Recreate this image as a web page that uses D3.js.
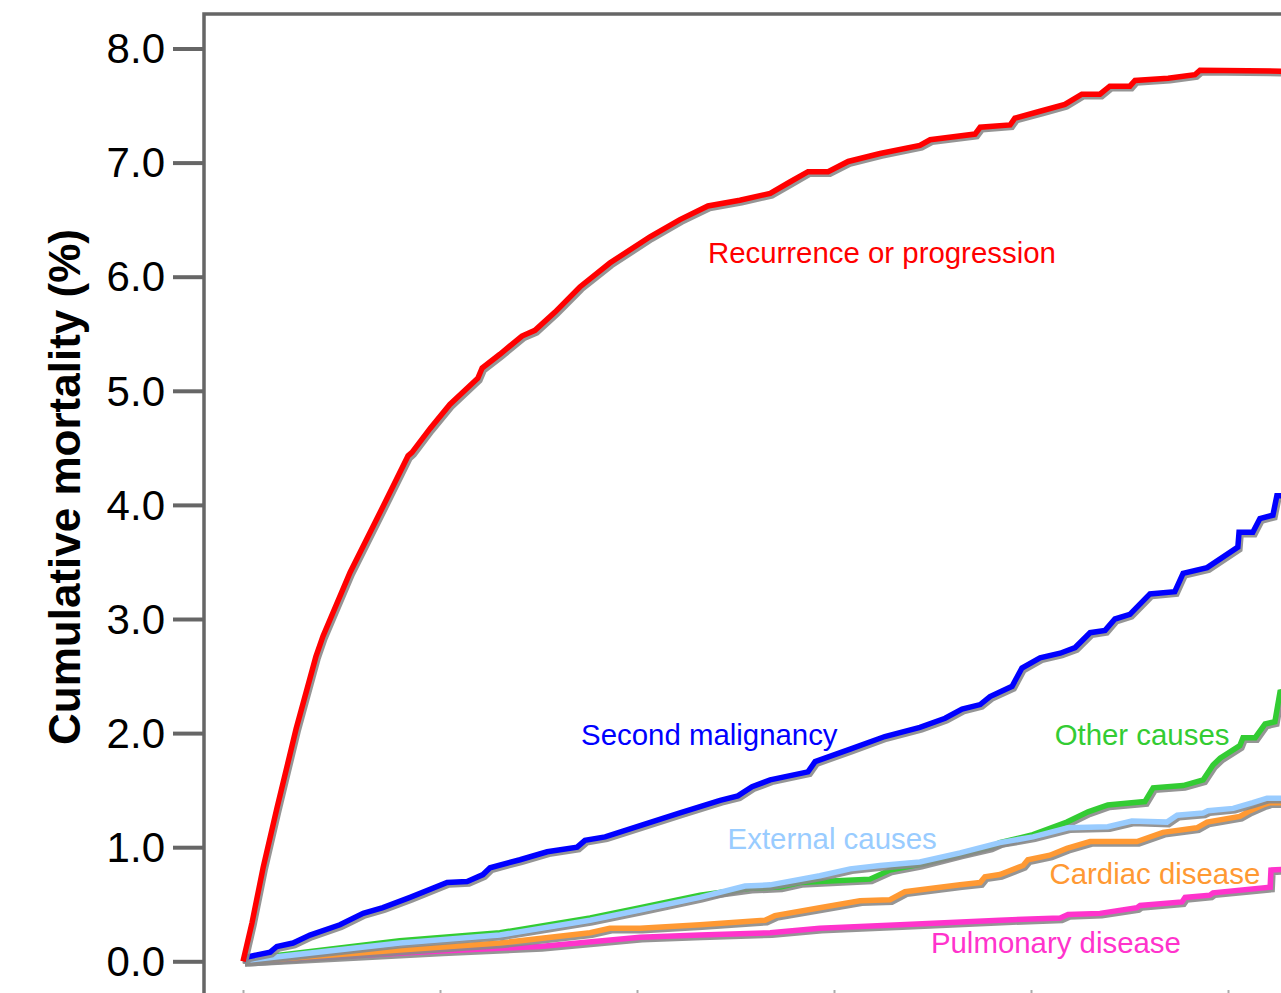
<!DOCTYPE html>
<html><head><meta charset="utf-8">
<script src="https://cdn.jsdelivr.net/npm/d3@7"></script>
<style>html,body{margin:0;padding:0;background:#fff;overflow:hidden}</style>
</head><body>
<svg id="chart" width="1281" height="993"></svg>
<script>
// ---- data: [years, cumulative mortality %] ----
const recurrence = [[0,0],[0.23,0.34],[0.51,0.82],[0.86,1.34],[1.35,2.04],[1.85,2.67],[2.03,2.85],[2.72,3.41],[3.43,3.90],[4.19,4.43],[4.29,4.46],[4.75,4.67],[5.25,4.88],[5.96,5.11],[6.07,5.20],[6.52,5.32],[7.08,5.48],[7.41,5.53],[7.92,5.69],[8.55,5.91],[9.31,6.12],[10.33,6.35],[11.09,6.50],[11.80,6.62],[12.61,6.67],[13.38,6.73],[13.88,6.83],[14.34,6.92],[14.85,6.92],[15.36,7.01],[16.17,7.08],[17.18,7.15],[17.44,7.20],[18.58,7.25],[18.71,7.31],[19.47,7.33],[19.59,7.39],[20.23,7.45],[20.86,7.51],[21.29,7.60],[21.75,7.60],[22.0,7.67],[22.51,7.67],[22.64,7.72],[23.48,7.74],[24.16,7.77],[24.29,7.81],[26.6,7.80]];
const secondMalignancy = [[0,0],[0.13,0.04],[0.69,0.08],[0.86,0.13],[1.27,0.16],[1.70,0.23],[2.46,0.32],[3.05,0.42],[3.55,0.47],[4.24,0.56],[5.18,0.69],[5.69,0.70],[6.09,0.76],[6.27,0.82],[7.03,0.89],[7.72,0.96],[8.48,1.00],[8.68,1.06],[9.19,1.09],[10.08,1.19],[11.09,1.30],[12.11,1.41],[12.56,1.45],[12.92,1.53],[13.38,1.59],[14.34,1.66],[14.52,1.75],[15.41,1.86],[16.29,1.97],[17.18,2.05],[17.82,2.13],[18.25,2.21],[18.71,2.25],[18.96,2.32],[19.52,2.41],[19.77,2.57],[20.23,2.66],[20.74,2.70],[21.12,2.75],[21.50,2.88],[21.88,2.90],[22.13,3.00],[22.51,3.04],[23.02,3.22],[23.65,3.24],[23.86,3.40],[24.47,3.45],[25.25,3.63],[25.28,3.76],[25.63,3.76],[25.81,3.88],[26.14,3.91],[26.24,4.08],[26.6,4.08]];
const otherCauses = [[0,0],[0.1,0.02],[3.98,0.18],[6.52,0.25],[8.81,0.38],[10.08,0.47],[11.60,0.58],[12.87,0.64],[13.63,0.65],[14.14,0.69],[14.64,0.70],[15.91,0.72],[16.42,0.80],[17.18,0.85],[18.20,0.94],[18.96,1.00],[19.21,1.04],[20.05,1.11],[20.91,1.22],[21.45,1.31],[21.95,1.37],[22.89,1.40],[23.10,1.52],[23.86,1.54],[24.37,1.59],[24.62,1.72],[24.80,1.78],[25.30,1.89],[25.38,1.96],[25.69,1.96],[25.94,2.08],[26.19,2.10],[26.32,2.36],[26.6,2.38]];
const externalCauses = [[0,0],[0.1,0.01],[3.98,0.16],[6.52,0.23],[8.81,0.36],[10.08,0.45],[11.60,0.56],[12.74,0.66],[13.38,0.67],[14.64,0.75],[15.41,0.81],[16.17,0.84],[17.18,0.87],[18.20,0.95],[19.21,1.04],[20.05,1.09],[20.94,1.17],[21.95,1.18],[22.56,1.23],[23.45,1.22],[23.71,1.28],[24.37,1.30],[24.49,1.32],[25.13,1.34],[25.63,1.39],[25.99,1.43],[26.6,1.43]];
const cardiacDisease = [[0,0],[0.1,0.0],[3.98,0.10],[6.52,0.16],[8.81,0.25],[9.31,0.29],[10.08,0.29],[11.60,0.32],[13.25,0.36],[13.50,0.40],[14.64,0.47],[15.66,0.53],[16.42,0.54],[16.80,0.61],[18.20,0.67],[18.71,0.69],[18.83,0.74],[19.21,0.76],[19.80,0.84],[19.92,0.89],[20.48,0.93],[20.91,0.99],[21.50,1.05],[22.69,1.05],[23.35,1.13],[24.21,1.17],[24.47,1.22],[25.30,1.27],[25.56,1.32],[25.89,1.37],[26.07,1.39],[26.6,1.39]];
const pulmonaryDisease = [[0,0],[0.1,0.0],[5.03,0.09],[7.54,0.13],[10.08,0.21],[11.60,0.23],[13.38,0.25],[14.64,0.29],[16.68,0.32],[19.21,0.36],[20.74,0.38],[20.94,0.41],[21.75,0.42],[22.69,0.47],[22.77,0.49],[23.83,0.52],[23.91,0.56],[24.54,0.58],[24.62,0.60],[26.07,0.65],[26.09,0.80],[26.6,0.81]];

const seriesNames = ["Recurrence or progression","Second malignancy","Other causes","External causes","Cardiac disease","Pulmonary disease"];
const seriesData = [recurrence, secondMalignancy, otherCauses, externalCauses, cardiacDisease, pulmonaryDisease];
const seriesColors = ["#ff0000","#0000ff","#33cc33","#99ccff","#ff9933","#ff33cc"];
// label anchors [years, %]
const labelAnchors = [[11.8,6.12],[8.58,1.895],[20.6,1.895],[12.3,0.985],[20.47,0.68],[17.46,0.07]];
const drawOrder = [5,4,2,3,1,0];
const yTicks = [0,1,2,3,4,5,6,7,8];
const xTicks = [0,5,10,15,20,25,30];
const yTitle = "Cumulative mortality (%)";

// ---- drawing ----
const svg = d3.select("#chart");
const x = d3.scaleLinear().domain([0,30]).range([243,1425]);
const y = d3.scaleLinear().domain([0,8]).range([961.3,48.5]);

// frame
svg.append("rect").attr("x",204).attr("y",14).attr("width",1400).attr("height",1000)
  .attr("fill","none").attr("stroke","#666").attr("stroke-width",3.5);

// y axis ticks
const yAxis = d3.axisLeft(y).tickValues(yTicks).tickFormat(d3.format(".1f")).tickSize(31).tickPadding(8);
const gy = svg.append("g").attr("transform","translate(204,0)").call(yAxis);
gy.select(".domain").remove();
gy.selectAll(".tick line").attr("stroke","#666").attr("stroke-width",4);
gy.selectAll(".tick text").attr("font-family","Liberation Sans, Arial, sans-serif")
  .attr("font-size",42).attr("fill","#000").attr("dy","0.34em");

// x axis tick marks (bottom, mostly off-screen)
const xAxis = d3.axisTop(x).tickValues(xTicks).tickFormat("").tickSize(10);
const gx = svg.append("g").attr("transform","translate(0,1000)").call(xAxis);
gx.select(".domain").remove();
gx.selectAll(".tick line").attr("stroke","#aaa").attr("stroke-width",2);

// y title
svg.append("text").attr("transform","translate(80,487) rotate(-90)")
  .attr("text-anchor","middle").attr("font-family","Liberation Sans, Arial, sans-serif")
  .attr("font-weight","bold").attr("font-size",44).attr("fill","#000").text(yTitle);

const line = d3.line().x(d=>x(d[0])).y(d=>y(d[1]));
const clip = svg.append("clipPath").attr("id","clip").append("rect")
  .attr("x",206).attr("y",16).attr("width",1200).attr("height",1000);
const plot = svg.append("g").attr("clip-path","url(#clip)");

drawOrder.forEach(i=>{
  plot.append("path").datum(seriesData[i]).attr("d",line)
    .attr("transform","translate(2,2.5)")
    .attr("fill","none").attr("stroke","#8a8a8a").attr("stroke-width",5.5)
    .attr("stroke-linejoin","miter").attr("opacity",0.9);
  plot.append("path").datum(seriesData[i]).attr("d",line)
    .attr("fill","none").attr("stroke",seriesColors[i]).attr("stroke-width",5.5)
    .attr("stroke-linejoin","miter");
});

seriesNames.forEach((n,i)=>{
  svg.append("text").attr("x",x(labelAnchors[i][0])).attr("y",y(labelAnchors[i][1]))
    .attr("font-family","Liberation Sans, Arial, sans-serif").attr("font-size",29.4)
    .attr("fill",seriesColors[i]).text(n);
});
</script>
</body></html>
